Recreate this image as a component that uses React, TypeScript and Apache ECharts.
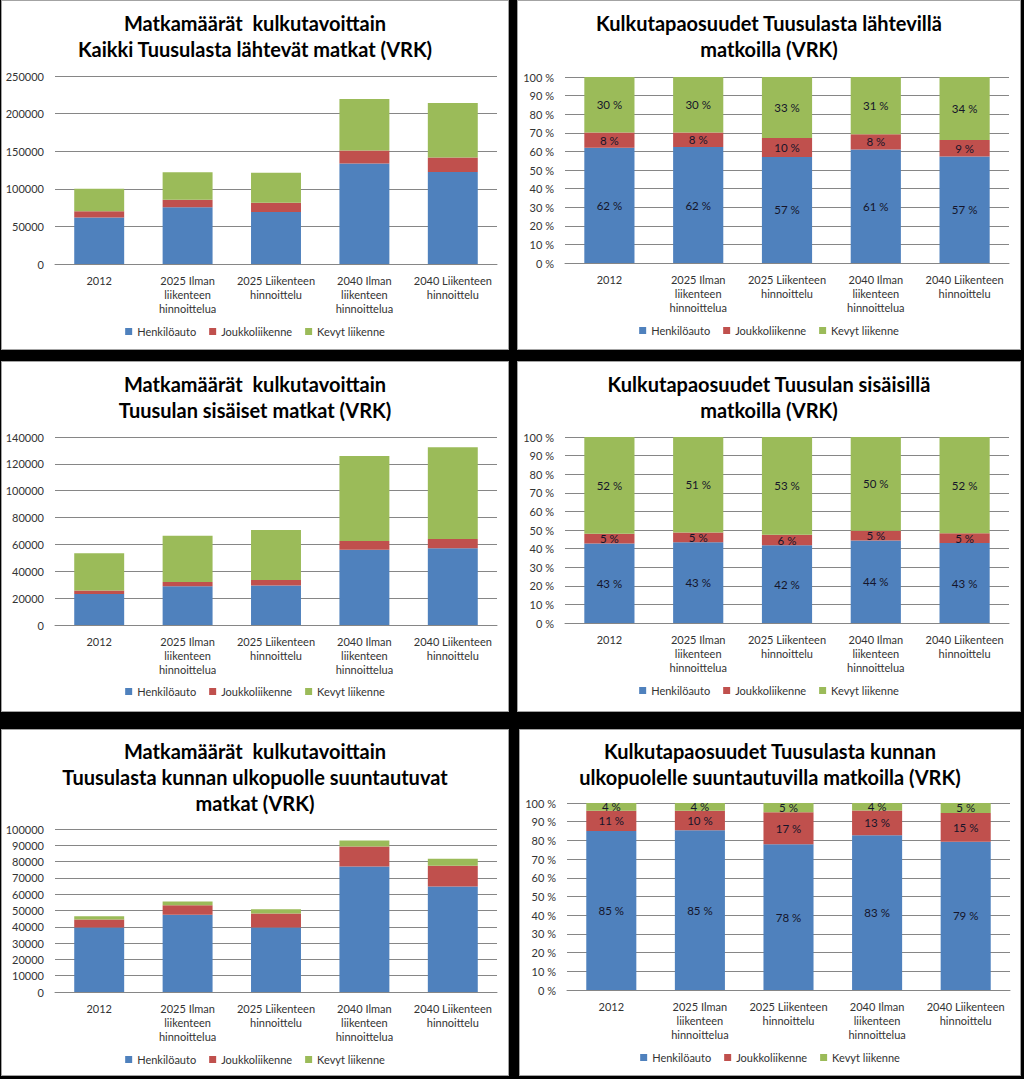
import React, { useEffect, useRef } from "react";
import * as echarts from "echarts";

const FONT = "Lato, 'Open Sans', sans-serif";

const categories = [
  "2012",
  "2025 Ilman\nliikenteen\nhinnoittelua",
  "2025 Liikenteen\nhinnoittelu",
  "2040 Ilman\nliikenteen\nhinnoittelua",
  "2040 Liikenteen\nhinnoittelu",
];
const seriesNames = ["Henkilöauto", "Joukkoliikenne", "Kevyt liikenne"];
const seriesColors = ["#4f81bd", "#c0504d", "#9bbb59"];

// Panel 1: all trips starting from Tuusula (trips / day)
const allCar = [62000, 75600, 69000, 133500, 122500];
const allTransit = [8000, 9800, 12500, 17500, 19000];
const allLight = [30000, 36600, 39700, 68400, 72500];

// Panel 2: mode shares, all trips (%)
const allCarShare = [62.0, 62.3, 57.0, 61.0, 57.2];
const allTransitShare = [8.2, 7.9, 10.2, 8.2, 8.9];
const allLightShare = [29.8, 29.8, 32.8, 30.8, 33.9];

// Panel 3: internal trips
const innerCar = [23000, 28800, 29500, 56000, 57100];
const innerTransit = [2700, 3300, 4000, 6600, 6900];
const innerLight = [27800, 34400, 37300, 63300, 68300];

// Panel 4: mode shares, internal trips (%)
const innerCarShare = [42.8, 43.4, 41.8, 44.4, 43.0];
const innerTransitShare = [5.2, 5.3, 5.6, 5.2, 5.3];
const innerLightShare = [52.0, 51.3, 52.6, 50.4, 51.7];

// Panel 5: outbound trips
const outCar = [39500, 47400, 39500, 77000, 64800];
const outTransit = [5000, 5800, 8700, 12300, 12600];
const outLight = [1900, 2300, 2500, 3700, 4300];

// Panel 6: mode shares, outbound trips (%)
const outCarShare = [85.0, 85.4, 77.9, 82.8, 79.3];
const outTransitShare = [10.9, 10.4, 17.2, 13.2, 15.4];
const outLightShare = [4.1, 4.2, 4.9, 4.0, 5.3];

const titles = [
  "Matkamäärät  kulkutavoittain\nKaikki Tuusulasta lähtevät matkat (VRK)",
  "Kulkutapaosuudet Tuusulasta lähtevillä\nmatkoilla (VRK)",
  "Matkamäärät  kulkutavoittain\nTuusulan sisäiset matkat (VRK)",
  "Kulkutapaosuudet Tuusulan sisäisillä\nmatkoilla (VRK)",
  "Matkamäärät  kulkutavoittain\nTuusulasta kunnan ulkopuolle suuntautuvat\nmatkat (VRK)",
  "Kulkutapaosuudet Tuusulasta kunnan\nulkopuolelle suuntautuvilla matkoilla (VRK)",
];

type Cfg = {
  box: { x: number; y: number; w: number; h: number };
  title: string;
  titleTop: number;
  data: number[][];
  percent: boolean;
  max: number;
  interval: number;
  grid: { left: number; right: number; top: number; bottom: number };
  legendTop: number;
};

const GRID_COLOR = "#868686";
const TEXT_COLOR = "#333333";

function buildOption(c: Cfg) {
  return {
    animation: false,
    title: {
      text: c.title,
      left: "center",
      top: c.titleTop,
      padding: 0,
      textStyle: {
        fontFamily: FONT,
        fontSize: 20,
        fontWeight: "bold",
        color: "#000",
        lineHeight: 26,
      },
    },
    legend: {
      data: seriesNames,
      top: c.legendTop,
      left: "center",
      padding: 0,
      itemWidth: 7,
      itemHeight: 7,
      itemGap: 13,
      icon: "rect",
      textStyle: { fontFamily: FONT, fontSize: 11, color: TEXT_COLOR },
    },
    grid: { ...c.grid, containLabel: false },
    xAxis: {
      type: "category",
      data: categories,
      axisTick: { show: false },
      axisLine: { lineStyle: { color: GRID_COLOR, width: 1 } },
      axisLabel: {
        interval: 0,
        fontFamily: FONT,
        fontSize: 11,
        lineHeight: 14,
        color: TEXT_COLOR,
        margin: 9,
      },
    },
    yAxis: {
      type: "value",
      min: 0,
      max: c.max,
      interval: c.interval,
      axisLine: { show: false },
      axisTick: { show: false },
      splitLine: { lineStyle: { color: GRID_COLOR, width: 1 } },
      axisLabel: {
        fontFamily: FONT,
        fontSize: 11,
        color: TEXT_COLOR,
        margin: 11,
        formatter: (v: number) => (c.percent ? `${v} %` : String(v)),
      },
    },
    series: seriesNames.map((name, i) => ({
      name,
      type: "bar",
      stack: "total",
      barWidth: "56.5%",
      data: c.data[i],
      itemStyle: { color: seriesColors[i] },
      label: c.percent
        ? {
            show: true,
            position: "inside",
            fontFamily: FONT,
            fontSize: 11.5,
            color: "#15152a",
            formatter: (p: any) => `${Math.round(p.value)} %`,
          }
        : { show: false },
    })),
  };
}

const panels: Cfg[] = [
  {
    box: { x: 1, y: 0, w: 508, h: 350 },
    title: titles[0],
    titleTop: 10,
    data: [allCar, allTransit, allLight],
    percent: false,
    max: 250000,
    interval: 50000,
    grid: { left: 54, right: 12, top: 76, bottom: 86 },
    legendTop: 326,
  },
  {
    box: { x: 517, y: 0, w: 504, h: 350 },
    title: titles[1],
    titleTop: 10,
    data: [allCarShare, allTransitShare, allLightShare],
    percent: true,
    max: 100,
    interval: 10,
    grid: { left: 48, right: 12, top: 77, bottom: 87 },
    legendTop: 325,
  },
  {
    box: { x: 1, y: 361, w: 508, h: 351 },
    title: titles[2],
    titleTop: 10,
    data: [innerCar, innerTransit, innerLight],
    percent: false,
    max: 140000,
    interval: 20000,
    grid: { left: 54, right: 12, top: 76, bottom: 87 },
    legendTop: 325,
  },
  {
    box: { x: 517, y: 361, w: 504, h: 351 },
    title: titles[3],
    titleTop: 10,
    data: [innerCarShare, innerTransitShare, innerLightShare],
    percent: true,
    max: 100,
    interval: 10,
    grid: { left: 48, right: 12, top: 76, bottom: 89 },
    legendTop: 324,
  },
  {
    box: { x: 1, y: 729, w: 508, h: 347 },
    title: titles[4],
    titleTop: 9,
    data: [outCar, outTransit, outLight],
    percent: false,
    max: 100000,
    interval: 10000,
    grid: { left: 54, right: 12, top: 100, bottom: 84 },
    legendTop: 325,
  },
  {
    box: { x: 519, y: 729, w: 502, h: 347 },
    title: titles[5],
    titleTop: 9,
    data: [outCarShare, outTransitShare, outLightShare],
    percent: true,
    max: 100,
    interval: 10,
    grid: { left: 48, right: 11, top: 74, bottom: 86 },
    legendTop: 323,
  },
];

function Panel({ cfg }: { cfg: Cfg }) {
  const ref = useRef<HTMLDivElement>(null);
  useEffect(() => {
    if (!ref.current) return;
    const chart = echarts.init(ref.current, null, { renderer: "svg" });
    chart.setOption(buildOption(cfg) as any);
    return () => chart.dispose();
  }, [cfg]);
  const { x, y, w, h } = cfg.box;
  return (
    <div
      style={{
        position: "absolute",
        left: x,
        top: y,
        width: w,
        height: h,
        background: "#ffffff",
        boxShadow: "inset 0 0 0 1px #a3a3a3",
      }}
    >
      <div ref={ref} style={{ width: w, height: h }} />
    </div>
  );
}

export default function App() {
  return (
    <div
      style={{
        position: "fixed",
        left: 0,
        top: 0,
        width: 1024,
        height: 1079,
        background: "#000000",
        overflow: "hidden",
      }}
    >
      {panels.map((p, i) => (
        <Panel key={i} cfg={p} />
      ))}
    </div>
  );
}
